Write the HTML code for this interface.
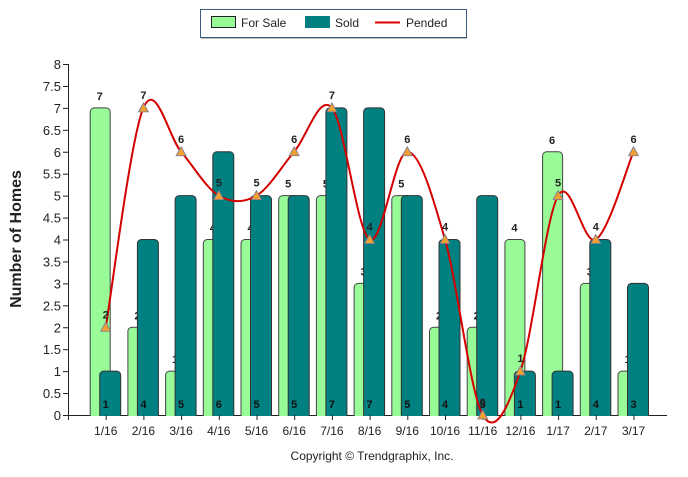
<!DOCTYPE html>
<html><head><meta charset="utf-8"><style>
body{margin:0;background:#fff;font-family:"Liberation Sans",sans-serif}
svg text{font-family:"Liberation Sans",sans-serif}
</style></head><body>
<svg id="c" width="688" height="472" xmlns="http://www.w3.org/2000/svg">
<g>
<rect x="200.5" y="9.5" width="266" height="28" fill="#fff" stroke="#3a5a80" stroke-width="1"/>
<line x1="201" y1="38.5" x2="467" y2="38.5" stroke="#bbb"/>
<rect x="211.5" y="16.5" width="24" height="11" fill="#98fb98" stroke="#222"/>
<text x="241" y="27" font-size="12" fill="#222">For Sale</text>
<rect x="305" y="16" width="25" height="12" fill="#008080"/>
<text x="335" y="27" font-size="12" fill="#222">Sold</text>
<line x1="375" y1="22.5" x2="400" y2="22.5" stroke="#d00" stroke-width="2"/>
<text x="406" y="27" font-size="12" fill="#222">Pended</text>
</g>
<text transform="translate(21,239) rotate(-90)" text-anchor="middle" font-size="16" font-weight="bold" fill="#222">Number of Homes</text>
<text x="372" y="460" text-anchor="middle" font-size="12" fill="#222">Copyright © Trendgraphix, Inc.</text>
<g id="plot"></g>
</svg>
<script>
const categories=["1/16","2/16","3/16","4/16","5/16","6/16","7/16","8/16","9/16","10/16","11/16","12/16","1/17","2/17","3/17"];
const forSale=[7,2,1,4,4,5,5,3,5,2,2,4,6,3,1];
const sold=[1,4,5,6,5,5,7,7,5,4,5,1,1,4,3];
const pended=[2,7,6,5,5,6,7,4,6,4,0,1,5,4,6];
const yTicks=[0,0.5,1,1.5,2,2.5,3,3.5,4,4.5,5,5.5,6,6.5,7,7.5,8];
const NS="http://www.w3.org/2000/svg";
const g=document.getElementById('plot');
const X0=68,STEP=37.7,Y0=415,YMAX=8,PH=351;
const xc=i=>X0+STEP*(i+1);
const y=v=>Y0-v/YMAX*PH;
function mk(t,a,p){const e=document.createElementNS(NS,t);for(const k in a)e.setAttribute(k,a[k]);(p||g).appendChild(e);return e;}
// axes
let ax=mk('line',{x1:X0+0.5,y1:y(8),x2:X0+0.5,y2:Y0,stroke:'#222'});


let bx=mk('line',{x1:X0,y1:Y0+0.5,x2:667,y2:Y0+0.5,stroke:'#222'});


yTicks.forEach(v=>{
  mk('line',{x1:X0-5,x2:X0,y1:y(v)+0.5,y2:y(v)+0.5,stroke:'#222'});
  const t=mk('text',{x:X0-7,y:y(v)+5,'text-anchor':'end','font-size':13,fill:'#222'});t.textContent=v;
  
  
});
mk('line',{x1:X0+0.5,x2:X0+0.5,y1:Y0,y2:Y0+5,stroke:'#222'});
categories.forEach((c,i)=>{
  mk('line',{x1:xc(i)+0.5,x2:xc(i)+0.5,y1:Y0,y2:Y0+5,stroke:'#222'});
  const t=mk('text',{x:xc(i),y:Y0+20,'text-anchor':'middle','font-size':12,fill:'#222'});t.textContent=c;
  
  
});
categories.forEach((c,i)=>{
  const cx=xc(i);
  if(forSale[i]>0){
    const r=mk('rect',{x:cx-15.5,y:y(forSale[i]),width:20,height:Y0-y(forSale[i])+4,rx:4,fill:'#98fb98',stroke:'#444'});
    
    
  }
  const t=mk('text',{x:cx-6,y:y(forSale[i])-8,'text-anchor':'middle','font-size':11,'font-weight':'bold',fill:'#222'});t.textContent=forSale[i];
  
  
  if(sold[i]>0){
    const r=mk('rect',{x:cx-6,y:y(sold[i]),width:21,height:Y0-y(sold[i])+4,rx:4,fill:'#008080',stroke:'#333'});
    
    
  }
  const s=mk('text',{x:cx,y:Y0-7,'text-anchor':'middle','font-size':11,'font-weight':'bold',fill:'#111'});s.textContent=sold[i];
  
  
});
// cover axis bottom overlap
mk('rect',{x:X0+1,y:Y0+1,width:600,height:4,fill:'#fff'});
categories.forEach((c,i)=>mk('line',{x1:xc(i)+0.5,x2:xc(i)+0.5,y1:Y0,y2:Y0+5,stroke:'#222'}));
// pended spline
const P=pended.map((v,i)=>[xc(i),y(v)]);
let d='M'+P[0][0]+','+P[0][1];
for(let i=0;i<P.length-1;i++){
  const p0=P[i-1]||P[i],p1=P[i],p2=P[i+1],p3=P[i+2]||P[i+1];
  const k=1/6;
  d+=' C'+(p1[0]+(p2[0]-p0[0])*k)+','+(p1[1]+(p2[1]-p0[1])*k)+' '+(p2[0]-(p3[0]-p1[0])*k)+','+(p2[1]-(p3[1]-p1[1])*k)+' '+p2[0]+','+p2[1];
}
const ln=mk('path',{d:d,fill:'none',stroke:'#d40000','stroke-width':2});


P.forEach((p,i)=>{
  const m=mk('path',{d:`M${p[0]},${p[1]-5}L${p[0]+5},${p[1]+4}L${p[0]-5},${p[1]+4}Z`,fill:'#f0a030',stroke:'#7a7a9a','stroke-width':0.8});
  
  
  const t=mk('text',{x:p[0],y:p[1]-9,'text-anchor':'middle','font-size':11,'font-weight':'bold',fill:'#222'});t.textContent=pended[i];
  
  
});
</script>
</body></html>
